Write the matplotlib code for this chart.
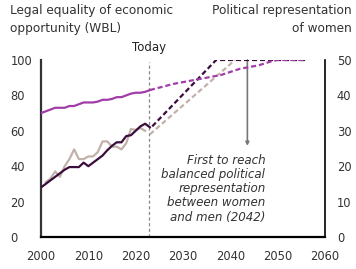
import numpy as np
import matplotlib
matplotlib.use('Agg')
import matplotlib.pyplot as plt

plt.rcParams['font.family'] = ['DejaVu Sans']

# historical values
years = np.arange(2000, 2024)
wbl = [70, 71, 72, 73, 73, 73, 74, 74, 75, 76, 76, 76, 76.5, 77.5, 77.5, 78,
       79, 79, 80, 81, 81.5, 81.5, 82, 83]
pol_dark = [28, 30, 32, 34, 36, 38, 39.5, 39.5, 39.5, 42, 40, 42, 44, 46, 49,
            51.5, 53.5, 53.5, 57, 57.5, 60, 62.5, 64, 62]
light_years = np.arange(2001, 2023)
pol_light = [31, 33, 37, 34, 40, 44, 49.5, 44, 44, 45.5, 45.5, 48, 54, 54, 51,
             51, 49.5, 53, 61, 60.5, 61.5, 60]

# projections
wbl_proj_years = [2023, 2028, 2034, 2038, 2042, 2046, 2049, 2050, 2056]
wbl_proj = [83, 86.5, 89.5, 91.5, 95, 97, 99.5, 100, 100]
dark_proj_years = [2023.5, 2037, 2056]
dark_proj = [62.5, 100, 100]
light_proj_years = [2023, 2041]
light_proj = [58, 100]

y_left = [0, 20, 40, 60, 80, 100]
y_right = [0, 10, 20, 30, 40, 50]
x_ticks = [2000, 2010, 2020, 2030, 2040, 2050, 2060]

today = 2022.75
first_year = 2043.6

purple = '#a23ca8'
dark = '#3b0d3d'
light = '#c2b1aa'
dash = (0, (2.3, 1.3))

fig = plt.figure(figsize=(3.56, 2.69), dpi=100)
ax = fig.add_axes([0.1152, 0.119, 0.7977, 0.658])

ax.plot(light_years, pol_light, color=light, lw=1.6, zorder=3)
ax.plot(years, pol_dark, color=dark, lw=1.6, zorder=4)
ax.plot(years, wbl, color=purple, lw=1.6, zorder=4)

ax.plot(light_proj_years, light_proj, color=light, lw=1.6, ls=dash, zorder=3)
ax.plot(dark_proj_years, dark_proj, color=dark, lw=1.6, ls=dash, zorder=4)
ax.plot(wbl_proj_years, wbl_proj, color=purple, lw=1.6, ls=dash, zorder=5)

ax.plot([today, today], [0, 99], color='#888888', lw=0.9, ls=(0, (2.5, 2)), zorder=2)
ax.text(today, 103.5, 'Today', ha='center', va='bottom', fontsize=8.5, color='#222222')

ax.annotate('', xy=(first_year, 51.5), xytext=(first_year, 100),
            arrowprops=dict(arrowstyle='-|>', color='#777777', lw=1.2,
                            mutation_scale=5, shrinkA=0, shrinkB=0), zorder=2)
ax.text(2047.4, 47, 'First to reach\nbalanced political\nrepresentation\nbetween women\nand men (2042)',
        ha='right', va='top', fontsize=8.6, style='italic', color='#333333',
        linespacing=1.12)

ax.set_xlim(2000, 2060)
ax.set_ylim(0, 100)
ax.set_xticks(x_ticks)
ax.set_xticklabels([str(v) for v in x_ticks])
ax.set_yticks(y_left)
ax.set_yticklabels([str(v) for v in y_left], ha='left')

ax2 = ax.twinx()
ax2.set_ylim(0, 50)
ax2.set_yticks(y_right)
ax2.set_yticklabels([str(v) for v in y_right])

for a in (ax, ax2):
    a.spines['top'].set_visible(False)
    a.tick_params(length=0, labelsize=8.3, colors='#333333')
ax.spines['left'].set_color('#333333')
ax.spines['left'].set_linewidth(1.6)
ax.spines['bottom'].set_linewidth(1.6)
ax.spines['right'].set_visible(False)
ax2.spines['left'].set_visible(False)
ax2.spines['bottom'].set_visible(False)
ax2.spines['right'].set_linewidth(1.2)
ax.tick_params(axis='x', pad=9.5)
ax.tick_params(axis='y', pad=22)
ax2.tick_params(axis='y', pad=8.5)

fig.text(10 / 356, 1 - 4 / 269, 'Legal equality of economic\nopportunity (WBL)',
         ha='left', va='top', fontsize=8.7, color='#333333', linespacing=1.5)
fig.text(352 / 356, 1 - 4 / 269, 'Political representation\nof women',
         ha='right', va='top', fontsize=8.7, color='#333333', linespacing=1.5)

fig.savefig('out.png', dpi=100)
